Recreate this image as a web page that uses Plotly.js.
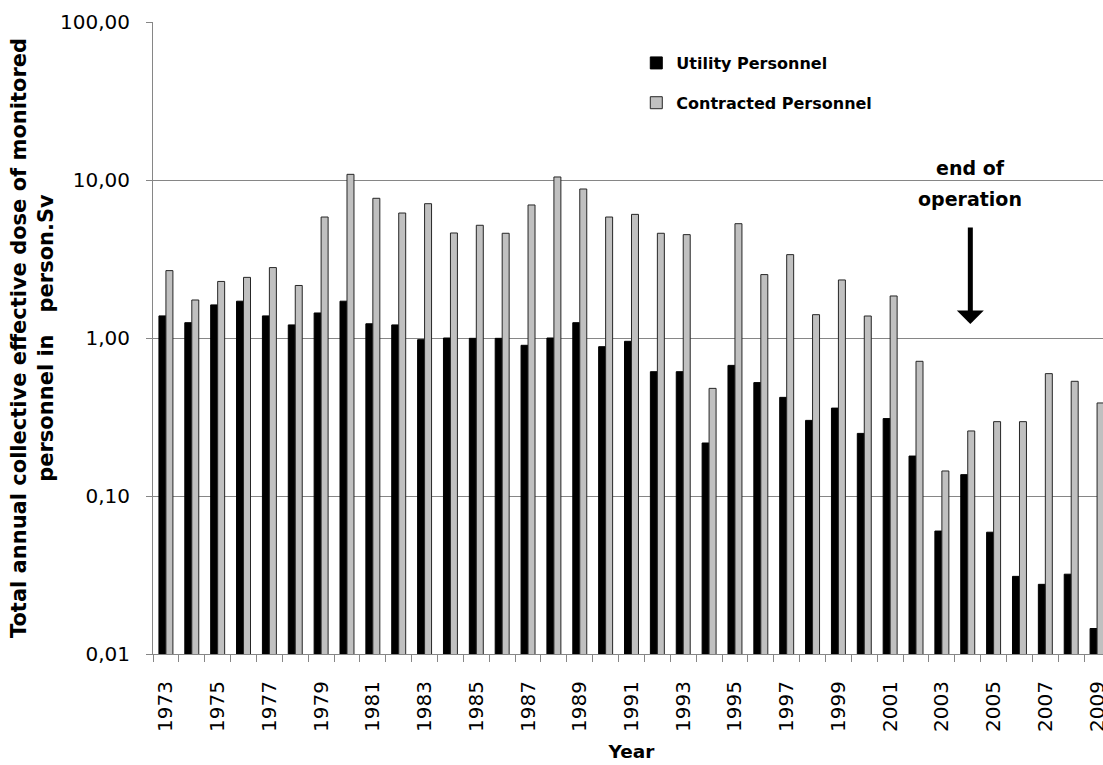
<!DOCTYPE html>
<html>
<head>
<meta charset="utf-8">
<script src="https://cdn.plot.ly/plotly-3.0.1.min.js"></script>
<style>
  html, body { margin: 0; padding: 0; overflow: hidden; background: #fff; }
  #chart { width: 1110px; height: 765px; }
</style>
</head>
<body>
<div id="chart"></div>
<script>
// ---- data ----
const years = [1973,1974,1975,1976,1977,1978,1979,1980,1981,1982,1983,1984,1985,1986,1987,1988,1989,1990,1991,1992,1993,1994,1995,1996,1997,1998,1999,2000,2001,2002,2003,2004,2005,2006,2007,2008,2009];
const utilityPersonnel = [1.38,1.25,1.62,1.71,1.38,1.21,1.44,1.71,1.23,1.21,0.976,1.00,0.995,0.995,0.899,1.00,1.25,0.881,0.953,0.612,0.612,0.2165,0.671,0.522,0.421,0.301,0.36,0.249,0.309,0.179,0.060,0.1365,0.059,0.031,0.0276,0.032,0.0145];
const contractedPersonnel = [2.67,1.74,2.28,2.42,2.79,2.15,5.83,10.86,7.66,6.18,7.08,4.62,5.17,4.60,6.95,10.45,8.77,5.83,6.06,4.60,4.51,0.48,5.29,2.52,3.37,1.405,2.33,1.378,1.845,0.712,0.144,0.258,0.2955,0.2955,0.595,0.532,0.388];
const xTickYears = [1973,1975,1977,1979,1981,1983,1985,1987,1989,1991,1993,1995,1997,1999,2001,2003,2005,2007,2009];
const xTickLabels = xTickYears.map(String);
const yTickValues = [0.01,0.1,1,10,100];
const yTickLabels = ['0,01','0,10','1,00','10,00','100,00'];
const seriesNames = ['Utility Personnel','Contracted Personnel'];

const tickFont = {family: 'DejaVu Sans', size: 20, color: '#000'};
const boldFont = 'DejaVu Sans';

const traces = [
  {
    type: 'bar', name: seriesNames[0], x: years, y: utilityPersonnel,
    legendgroup: 'a',
    marker: {color: '#000000', line: {color: '#000000', width: 1}},
    hoverinfo: 'x+y'
  },
  {
    type: 'bar', name: seriesNames[1], x: years, y: contractedPersonnel,
    legendgroup: 'b',
    marker: {color: '#c0c0c0', line: {color: '#262626', width: 1}},
    hoverinfo: 'x+y'
  }
];

const layout = {
  width: 1110, height: 765,
  margin: {l: 153, r: 0, t: 22, b: 111, pad: 0},
  paper_bgcolor: '#fff', plot_bgcolor: '#fff',
  barmode: 'group', bargap: 0.46, bargroupgap: 0,
  showlegend: true,
  legend: {
    x: 0.505, y: 0.962, xanchor: 'left', yanchor: 'top',
    bgcolor: 'rgba(0,0,0,0)', borderwidth: 0,
    traceorder: 'grouped', tracegroupgap: 16,
    font: {family: boldFont, size: 16, color: '#000', weight: 'bold'}
  },
  xaxis: {
    type: 'linear',
    range: [1972.5, 2009.5],
    tickmode: 'array', tickvals: xTickYears, ticktext: xTickLabels,
    tickangle: -90, tickfont: tickFont, ticks: '',
    ticklabelstandoff: 18,
    showgrid: false, zeroline: false,
    showline: true, linecolor: '#868686', linewidth: 1,
    minor: {ticks: 'outside', ticklen: 7, tickcolor: '#868686', tickwidth: 1, tick0: 1972.5, dtick: 1, showgrid: false},
    title: {text: 'Year', font: {family: boldFont, size: 18.5, color: '#000', weight: 'bold'}, standoff: 14}
  },
  yaxis: {
    type: 'log', range: [-2, 2],
    tickmode: 'array', tickvals: yTickValues, ticktext: yTickLabels,
    tickfont: tickFont,
    ticks: 'outside', ticklen: 6, tickcolor: '#868686', tickwidth: 1,
    ticklabelstandoff: 12,
    showgrid: true, gridcolor: '#868686', gridwidth: 1,
    zeroline: false, showline: true, linecolor: '#868686', linewidth: 1,
    title: {
      text: 'Total annual collective effective dose of monitored<br>personnel in\u00a0\u00a0 person.Sv',
      font: {family: boldFont, size: 21, color: '#000', weight: 'bold'},
      standoff: 0
    }
  },
  annotations: [
    {xref: 'x', yref: 'paper', x: 2004.1, y: 0.769, text: 'end of', showarrow: false,
     xanchor: 'center', yanchor: 'middle', font: {family: boldFont, size: 19, color: '#000', weight: 'bold'}},
    {xref: 'x', yref: 'paper', x: 2004.1, y: 0.72, text: 'operation', showarrow: false,
     xanchor: 'center', yanchor: 'middle', font: {family: boldFont, size: 19, color: '#000', weight: 'bold'}},
    {xref: 'x', yref: 'paper', x: 2004.1, y: 0.5222, text: '', showarrow: true,
     ax: 0, ay: -98, arrowhead: 1, arrowsize: 0.9, arrowwidth: 5, arrowcolor: '#000', standoff: 0}
  ]
};

Plotly.newPlot('chart', traces, layout, {displayModeBar: false, responsive: false});
</script>
</body>
</html>
